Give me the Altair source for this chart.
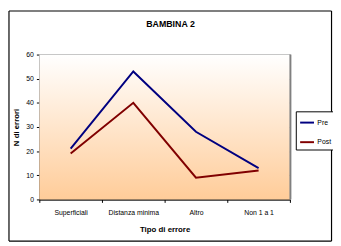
import altair as alt
import pandas as pd

categories = ["Superficiali", "Distanza minima", "Altro", "Non 1 a 1"]
pre = [21, 53, 28, 13]
post = [19, 40, 9, 12]
series = ["Pre", "Post"]
colors = ["#000080", "#800000"]
title_text = "BAMBINA 2"

rows = []
for c, v in zip(categories, pre):
    rows.append({"cat": c, "val": v, "serie": "Pre"})
for c, v in zip(categories, post):
    rows.append({"cat": c, "val": v, "serie": "Post"})
df = pd.DataFrame(rows)

W, H = 256, 148
FONT = "Liberation Sans Narrow, Liberation Sans, Arial"
one = pd.DataFrame({"a": [0]})

bg = alt.Chart(one).mark_rect(
    color=alt.Gradient(
        gradient="linear", x1=0, y1=0, x2=0, y2=1,
        stops=[alt.GradientStop(color="#FFFFFF", offset=0),
               alt.GradientStop(color="#FFCC99", offset=1)]
    )
).encode(x=alt.value(0), x2=alt.value(W), y=alt.value(0), y2=alt.value(H))

right_border = alt.Chart(one).mark_rule(
    color="#808080", strokeWidth=2
).encode(x=alt.value(W + 0.5), y=alt.value(0), y2=alt.value(H))

L, R, T, B = -31, 298.5, -44.5, H + 42.5
border_style = dict(color="black", strokeWidth=1.2, clip=False)
b_left = alt.Chart(one).mark_rule(**border_style).encode(
    x=alt.value(L), y=alt.value(T), y2=alt.value(B))
b_right = alt.Chart(one).mark_rule(**border_style).encode(
    x=alt.value(R), y=alt.value(T), y2=alt.value(B))
b_top = alt.Chart(one).mark_rule(**border_style).encode(
    x=alt.value(L), x2=alt.value(R), y=alt.value(T))
b_bottom = alt.Chart(one).mark_rule(**border_style).encode(
    x=alt.value(L), x2=alt.value(R), y=alt.value(B))

title = alt.Chart(one).mark_text(
    text=title_text, font=FONT, fontSize=9, fontWeight="bold", color="black",
    align="center", baseline="middle"
).encode(x=alt.value(W / 2 + 6), y=alt.value(-31))

lines = alt.Chart(df).mark_line(strokeWidth=2).encode(
    x=alt.X("cat:N", sort=categories,
            scale=alt.Scale(paddingInner=0, paddingOuter=0),
            axis=alt.Axis(title="Tipo di errore", labelAngle=0, tickBand="extent",
                          labelFont=FONT, labelFontSize=7, labelColor="black",
                          titleFont=FONT, titleFontSize=8, titleFontWeight="bold",
                          titleColor="black", labelPadding=6, titlePadding=11,
                          domainColor="black", tickColor="black", tickSize=3,
                          grid=False)),
    y=alt.Y("val:Q", scale=alt.Scale(domain=[0, 60], nice=False),
            axis=alt.Axis(title="N di errori", values=[0, 10, 20, 30, 40, 50, 60],
                          labelFont=FONT, labelFontSize=7, labelColor="black",
                          titleFont=FONT, titleFontSize=8, titleFontWeight="bold",
                          titleColor="black", labelPadding=3, titlePadding=5,
                          domainColor="black", tickColor="black", tickSize=3,
                          grid=True, gridColor="black", gridOpacity=1, gridWidth=1)),
    color=alt.Color("serie:N", sort=series,
                    scale=alt.Scale(domain=series, range=colors),
                    legend=alt.Legend(title=None, orient="none", legendX=262, legendY=58,
                                      symbolType="stroke", symbolStrokeWidth=2,
                                      symbolSize=200, labelFont=FONT, labelFontSize=7,
                                      labelColor="black", strokeColor="black",
                                      fillColor="white", padding=3, rowPadding=7,
                                      labelOffset=2)),
    detail="serie:N",
)

chart = alt.layer(bg, right_border, lines, b_left, b_right, b_top, b_bottom, title).properties(
    width=W, height=H,
    padding={"left": 32, "top": 45, "right": 44, "bottom": 45},
    autosize=alt.AutoSizeParams(type="none"),
    background="white",
).configure_view(stroke=None)

chart.save("out.html", embed_options={"renderer": "svg", "actions": False})
